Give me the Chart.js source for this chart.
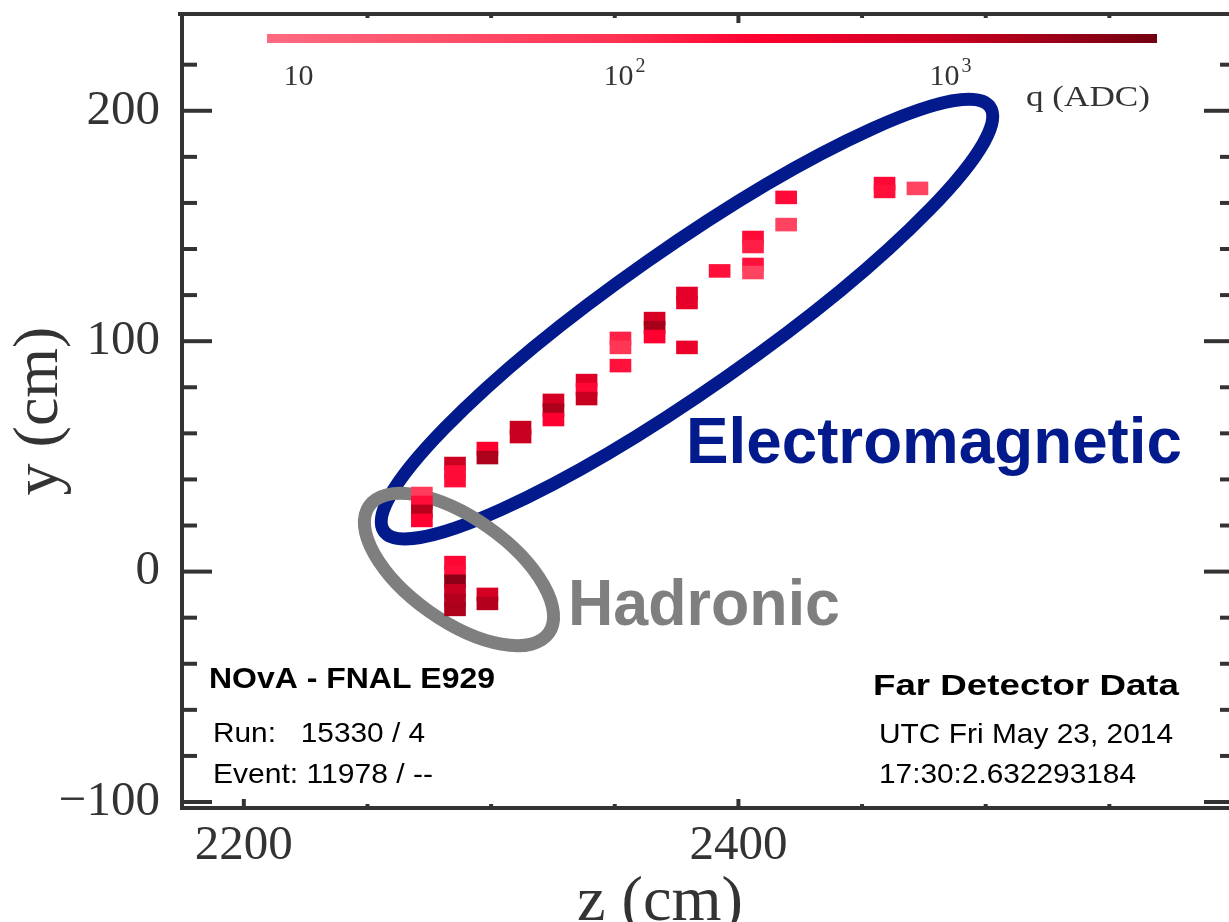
<!DOCTYPE html>
<html>
<head>
<meta charset="utf-8">
<script src="https://cdn.jsdelivr.net/npm/chart.js@4.4.1/dist/chart.umd.min.js"></script>
<style>
html,body{margin:0;padding:0;background:#fff;overflow:hidden;width:1229px;height:922px;}
#wrap{position:absolute;left:0;top:0;width:1240px;height:922px;}
</style>
</head>
<body>
<div id="wrap"><canvas id="c" width="1240" height="922"></canvas></div>
<script>
// ---------------- data ----------------
// hit position along the beam (z, cm)
const hitZ = [
  2272.0, 2272.0, 2272.0, 2272.0,
  2285.4, 2285.4, 2285.4,
  2285.4, 2285.4, 2285.4, 2285.4, 2285.4, 2285.4,
  2298.5, 2298.5, 2298.5, 2298.5,
  2311.9, 2311.9,
  2325.2, 2325.2, 2325.2,
  2338.6, 2338.6, 2338.6,
  2352.3, 2352.3, 2352.3,
  2366.1, 2366.1, 2366.1,
  2379.2, 2379.2, 2379.2,
  2392.4,
  2405.9, 2405.9, 2405.9, 2405.9,
  2419.3, 2419.3,
  2459.1, 2459.1,
  2472.4
];
// hit cell centre (y, cm)
const hitY = [
  33.9, 30.0, 26.1, 22.2,
  46.9, 43.2, 39.5,
  3.9, -0.1, -4.2, -8.3, -12.4, -16.4,
  53.4, 49.5, -9.9, -13.8,
  62.5, 58.6,
  74.3, 70.1, 66.0,
  82.9, 79.0, 75.1,
  101.2, 97.3, 89.4,
  109.8, 105.9, 102.0,
  120.7, 116.8, 97.3,
  130.5,
  145.0, 141.1, 133.3, 129.8,
  162.4, 150.6,
  168.4, 165.0,
  166.3
];
// hit charge (q, ADC)
const hitQ = [
  60, 200, 1300, 250,
  900, 200, 200,
  220, 200, 2800, 1000, 1400, 1600,
  260, 1600, 700, 1400,
  1000, 950,
  700, 1600, 270,
  550, 220, 1000,
  130, 80, 180,
  650, 1700, 250,
  480, 470, 420,
  190,
  210, 140, 180, 45,
  210, 45,
  210, 190,
  45
];
const xTickValues = [2200, 2400];
const xTickLabels = ['2200', '2400'];
const xMinorTicks = [2250, 2300, 2350, 2450, 2500, 2550];
const yTickValues = [-100, 0, 100, 200];
const yTickLabels = ['\u2212100', '0', '100', '200'];
const yMinorTicks = [-80, -60, -40, -20, 20, 40, 60, 80, 120, 140, 160, 180, 220];
const cbTickValues = [10, 100, 1000];
const cbTickBase = ['10', '10', '10'];
const cbTickExp = ['', '2', '3'];

// ---------------- styling / annotation config ----------------
const Q_MIN = 8, Q_MAX = 4300;
const CELL_HALF = 2.8;            // half cell height, cm
const AXIS_COLOR = '#333333';
const cmStops = [
  [0.90, [255, 106, 128]],
  [1.50, [255, 77, 104]],
  [2.00, [255, 48, 80]],
  [2.40, [255, 0, 48]],
  [3.00, [200, 0, 32]],
  [3.64, [112, 0, 16]]
];
function qColor(q) {
  const l = Math.log10(q);
  if (l <= cmStops[0][0]) return 'rgb(' + cmStops[0][1].join(',') + ')';
  for (let i = 1; i < cmStops.length; i++) {
    if (l <= cmStops[i][0]) {
      const [l0, c0] = cmStops[i - 1], [l1, c1] = cmStops[i];
      const t = (l - l0) / (l1 - l0);
      const c = c0.map((v, k) => Math.round(v + (c1[k] - v) * t));
      return 'rgb(' + c.join(',') + ')';
    }
  }
  return 'rgb(' + cmStops[cmStops.length - 1][1].join(',') + ')';
}
const ellipses = [
  { z: 2379.2, y: 109.6, a: 149.6, b: 28.3, angle: 35.0, color: '#021a8c', lw: 13 },
  { z: 2287.0, y: 0.9, a: 44.5, b: 20.8, angle: -35.3, color: '#7f7f7f', lw: 13 }
];
const labels = [
  { t: 'Electromagnetic', x: 686, y: 463, font: 'bold 64px "Liberation Sans", Arial, sans-serif', c: '#021a8c', w: 496 },
  { t: 'Hadronic', x: 568, y: 625, font: 'bold 64px "Liberation Sans", Arial, sans-serif', c: '#7f7f7f', w: 272 },
  { t: 'NOvA - FNAL E929', x: 209, y: 688, font: 'bold 30px "Liberation Sans", Arial, sans-serif', c: '#000', w: 286 },
  { t: 'Run:   15330 / 4', x: 213, y: 742, font: '28px "Liberation Sans", Arial, sans-serif', c: '#000', w: 212 },
  { t: 'Event: 11978 / --', x: 213, y: 783, font: '28px "Liberation Sans", Arial, sans-serif', c: '#000', w: 220 },
  { t: 'Far Detector Data', x: 873, y: 695, font: 'bold 30px "Liberation Sans", Arial, sans-serif', c: '#000', w: 306 },
  { t: 'UTC Fri May 23, 2014', x: 879, y: 743, font: '28px "Liberation Sans", Arial, sans-serif', c: '#000', w: 294 },
  { t: '17:30:2.632293184', x: 879, y: 783, font: '28px "Liberation Sans", Arial, sans-serif', c: '#000', w: 257 }
];
const SERIF = '"Liberation Serif", "Times New Roman", serif';

function fitText(ctx, t, x, y, font, color, w, align) {
  ctx.save();
  ctx.font = font;
  ctx.fillStyle = color;
  ctx.textBaseline = 'alphabetic';
  ctx.textAlign = 'left';
  const mw = ctx.measureText(t).width;
  const s = w ? w / mw : 1;
  let x0 = x;
  if (align === 'center') x0 = x - mw * s / 2;
  ctx.translate(x0, y);
  ctx.scale(s, 1);
  ctx.fillText(t, 0, 0);
  ctx.restore();
}

const decor = {
  id: 'decor',
  beforeDraw(chart) {
    const ctx = chart.ctx;
    ctx.save();
    ctx.fillStyle = '#fff';
    ctx.fillRect(0, 0, chart.width, chart.height);
    ctx.restore();
  },
  beforeDatasetsDraw(chart) {
    const ctx = chart.ctx, xs = chart.scales.x, ys = chart.scales.y;
    ellipses.forEach(e => {
      const cx = xs.getPixelForValue(e.z), cy = ys.getPixelForValue(e.y);
      const k = Math.abs(xs.getPixelForValue(e.z + 1) - cx);
      ctx.save();
      ctx.beginPath();
      ctx.ellipse(cx, cy, e.a * k, e.b * k, -e.angle * Math.PI / 180, 0, Math.PI * 2);
      ctx.lineWidth = e.lw;
      ctx.strokeStyle = e.color;
      ctx.stroke();
      ctx.restore();
    });
  },
  afterDraw(chart) {
    const ctx = chart.ctx, xs = chart.scales.x, ys = chart.scales.y;
    const { left, right, top, bottom } = chart.chartArea;
    ctx.save();
    ctx.strokeStyle = AXIS_COLOR;
    ctx.lineWidth = 4;
    ctx.lineCap = 'butt';
    const seg = (x1, y1, x2, y2) => { ctx.beginPath(); ctx.moveTo(x1, y1); ctx.lineTo(x2, y2); ctx.stroke(); };
    // top and right frame lines
    seg(left - 4, top, right + 4, top);
    seg(right, top, right, bottom);
    // y ticks (left and right, inward)
    yTickValues.forEach(v => { const p = ys.getPixelForValue(v); seg(left, p, left + 30, p); seg(right, p, right - 29, p); });
    yMinorTicks.forEach(v => { const p = ys.getPixelForValue(v); seg(left, p, left + 15, p); seg(right, p, right - 13, p); });
    // x ticks (bottom and top, inward)
    xTickValues.forEach(v => { const p = xs.getPixelForValue(v); seg(p, bottom, p, bottom - 9); });
    xMinorTicks.forEach(v => { const p = xs.getPixelForValue(v); seg(p, bottom, p, bottom - 4); seg(p, top, p, top + 4); });
    seg(xs.getPixelForValue(2400), top, xs.getPixelForValue(2400), top + 9);
    ctx.restore();

    // colour bar
    const cbL = 267, cbR = 1157, cbT = 34, cbH = 9;
    const lmin = Math.log10(Q_MIN), lmax = Math.log10(Q_MAX);
    const cbX = q => cbL + (Math.log10(q) - lmin) / (lmax - lmin) * (cbR - cbL);
    const g = ctx.createLinearGradient(cbL, 0, cbR, 0);
    for (let i = 0; i <= 40; i++) {
      const l = lmin + (lmax - lmin) * i / 40;
      g.addColorStop(i / 40, qColor(Math.pow(10, l)));
    }
    ctx.save();
    ctx.fillStyle = g;
    ctx.fillRect(cbL, cbT, cbR - cbL, cbH);
    ctx.restore();
    cbTickValues.forEach((q, i) => {
      ctx.save();
      ctx.fillStyle = '#333';
      ctx.textBaseline = 'alphabetic';
      ctx.font = '30px ' + SERIF;
      const wb = ctx.measureText(cbTickBase[i]).width;
      ctx.font = '20px ' + SERIF;
      const we = cbTickExp[i] ? ctx.measureText(cbTickExp[i]).width + 2 : 0;
      const x0 = cbX(q) - (wb + we) / 2;
      ctx.font = '30px ' + SERIF;
      ctx.fillText(cbTickBase[i], x0, 85);
      if (cbTickExp[i]) { ctx.font = '20px ' + SERIF; ctx.fillText(cbTickExp[i], x0 + wb + 2, 72); }
      ctx.restore();
    });
    fitText(ctx, 'q (ADC)', 1026, 106, '30px ' + SERIF, '#333', 124);

    // annotations
    labels.forEach(l => fitText(ctx, l.t, l.x, l.y, l.font, l.c, l.w));
    // x-axis title
    fitText(ctx, 'z (cm)', 660, 920, '64px ' + SERIF, '#333', 166, 'center');
  }
};

const chart = new Chart(document.getElementById('c'), {
  type: 'bar',
  data: {
    datasets: [{
      label: 'hits',
      data: hitZ.map((z, i) => ({ x: z, y: [hitY[i] - CELL_HALF, hitY[i] + CELL_HALF] })),
      backgroundColor: hitQ.map(qColor),
      borderWidth: 0,
      barThickness: 21,
      grouped: false
    }]
  },
  options: {
    responsive: false,
    animation: false,
    devicePixelRatio: 1,
    layout: { padding: { top: 14, right: 7, left: 0, bottom: 0 } },
    plugins: { legend: { display: false }, tooltip: { enabled: false }, title: { display: false } },
    scales: {
      x: {
        type: 'linear', min: 2175, max: 2600, offset: false,
        grid: { display: false, drawTicks: false },
        border: { display: true, width: 4, color: AXIS_COLOR },
        afterBuildTicks: s => { s.ticks = xTickValues.map(v => ({ value: v })); },
        afterFit: s => { s.height = 114; s.paddingLeft = 0; s.paddingRight = 0; s.paddingTop = 0; s.paddingBottom = 0; },
        ticks: {
          autoSkip: false, maxRotation: 0, padding: 9, color: '#333',
          font: { family: SERIF, size: 49 },
          callback: (v) => xTickLabels[xTickValues.indexOf(v)] ?? String(v)
        }
      },
      y: {
        type: 'linear', min: -102.6, max: 242,
        grid: { display: false, drawTicks: false },
        border: { display: true, width: 4, color: AXIS_COLOR },
        afterBuildTicks: s => { s.ticks = yTickValues.map(v => ({ value: v })); },
        afterFit: s => { s.width = 182; s.paddingLeft = 0; s.paddingRight = 0; s.paddingTop = 0; s.paddingBottom = 0; },
        ticks: {
          autoSkip: false, padding: 22, color: '#333',
          font: { family: SERIF, size: 49 },
          callback: (v) => yTickLabels[yTickValues.indexOf(v)] ?? String(v)
        },
        title: {
          display: true, text: 'y (cm)', color: '#333',
          font: { family: SERIF, size: 64 },
          padding: { top: 2, bottom: 0 }
        }
      }
    }
  },
  plugins: [decor]
});
</script>
</body>
</html>
